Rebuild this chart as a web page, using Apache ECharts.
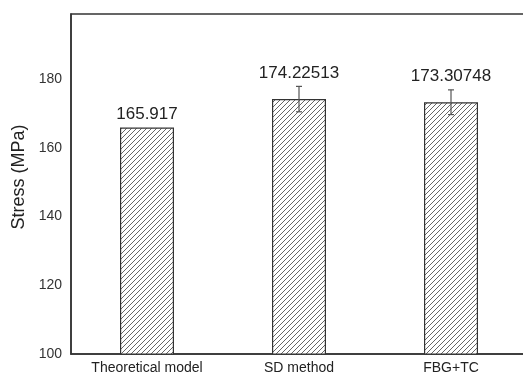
<!DOCTYPE html>
<html>
<head>
<meta charset="utf-8">
<script src="https://cdn.jsdelivr.net/npm/echarts@6/dist/echarts.min.js"></script>
<style>
  html, body { margin: 0; padding: 0; background: #fff; }
  #chart { width: 523px; height: 376px; }
</style>
</head>
<body>
<div id="chart"></div>
<script>
// Measured stress for each method (MPa) and its spread
const categories = ['Theoretical model', 'SD method', 'FBG+TC'];
const stressValues = [165.917, 174.22513, 173.30748];
const stressErrors = [0, 3.7, 3.6];
const valueLabels = ['165.917', '174.22513', '173.30748'];
const yTicks = [100, 120, 140, 160, 180];

// Diagonal hatch tile for the bar fill
function hatchTile() {
  const s = 5;
  const c = document.createElement('canvas');
  c.width = s; c.height = s;
  const g = c.getContext('2d');
  g.fillStyle = '#ffffff';
  g.fillRect(0, 0, s, s);
  g.strokeStyle = '#555';
  g.lineWidth = 0.9;
  g.beginPath();
  g.moveTo(-1, s + 1); g.lineTo(s + 1, -1);
  g.moveTo(-1, 1); g.lineTo(1, -1);
  g.moveTo(s - 1, s + 1); g.lineTo(s + 1, s - 1);
  g.stroke();
  return c;
}

const chart = echarts.init(document.getElementById('chart'));
const font = 'Liberation Sans, Arial, sans-serif';

chart.setOption({
  animation: false,
  backgroundColor: '#fff',
  grid: {
    left: 71, top: 14, width: 456, height: 340,
    outerBoundsMode: 'none',
    containLabel: false,
    show: true, borderColor: '#333', borderWidth: 1.5, backgroundColor: 'transparent'
  },
  xAxis: {
    type: 'category',
    data: categories,
    axisLine: { lineStyle: { color: '#333', width: 1.5 } },
    axisTick: { show: false },
    axisLabel: { color: '#222', fontSize: 14, fontFamily: font, margin: 7 }
  },
  yAxis: {
    type: 'value',
    min: 100, max: 199, interval: 20,
    name: 'Stress (MPa)',
    nameLocation: 'middle',
    nameGap: 43,
    nameTextStyle: { color: '#222', fontSize: 18, fontFamily: font, padding: [0, 0, 0, 14] },
    axisLine: { show: true, lineStyle: { color: '#333', width: 1.5 } },
    axisTick: { show: false },
    splitLine: { show: false },
    axisLabel: {
      color: '#333', fontSize: 14, fontFamily: font, margin: 9,
      formatter: v => (yTicks.indexOf(v) >= 0 ? String(v) : '')
    }
  },
  series: [
    {
      type: 'bar',
      data: stressValues,
      barWidth: 54,
      itemStyle: {
        color: { image: hatchTile(), repeat: 'repeat' },
        borderColor: '#333',
        borderWidth: 1.2
      },
      z: 2
    },
    {
      // Error whiskers and the value written above each bar
      type: 'custom',
      data: stressValues.map((v, i) => [i, v, stressErrors[i]]),
      z: 5,
      renderItem: function (params, api) {
        const i = api.value(0), v = api.value(1), e = api.value(2);
        const top = api.coord([i, v + e]);
        const bot = api.coord([i, v - e]);
        const x = top[0];
        const children = [];
        if (e > 0) {
          const st = { stroke: '#555', lineWidth: 1.2 };
          children.push(
            { type: 'line', shape: { x1: x, y1: top[1], x2: x, y2: bot[1] }, style: st },
            { type: 'line', shape: { x1: x - 3, y1: top[1], x2: x + 3, y2: top[1] }, style: st },
            { type: 'line', shape: { x1: x - 3, y1: bot[1], x2: x + 3, y2: bot[1] }, style: st }
          );
        }
        children.push({
          type: 'text',
          style: {
            x: x, y: top[1] - 5,
            text: valueLabels[i],
            fill: '#222',
            font: '17px ' + font,
            textAlign: 'center',
            textVerticalAlign: 'bottom'
          }
        });
        return { type: 'group', children: children };
      }
    }
  ]
});
</script>
</body>
</html>
